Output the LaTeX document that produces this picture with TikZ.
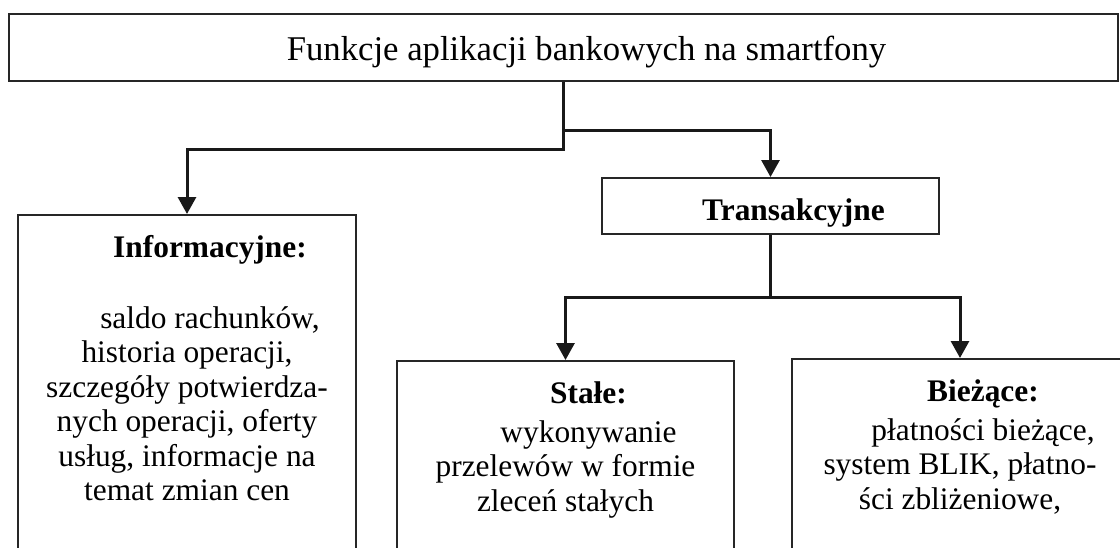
\documentclass[tikz,border=0pt]{standalone}
\usepackage{fontspec}
\setmainfont{Liberation Serif}
\usetikzlibrary{arrows.meta, positioning}
\newcommand{\firstind}{\hspace*{23pt}}

\begin{document}
\begin{tikzpicture}[
    x=0.5pt, y=-0.5pt,
    box/.style={rectangle, draw=black!85, line width=0.8pt, inner sep=0pt, anchor=north},
    column/.style={box, minimum width=168.5pt, minimum height=200pt},
    txt/.style={font=\fontsize{15.7pt}{17.2pt}\selectfont, align=center, inner sep=0pt, anchor=north},
    arrow/.style={-{Triangle[length=8.5pt,width=9pt]}, line width=1.5pt, black!90}
]
\useasboundingbox (0,0) rectangle (1120,547);
\clip (0,0) rectangle (1120,547);

\node[box, minimum width=554.5pt, minimum height=33.5pt] (title) at (563.5,13) {};
\node[box, minimum width=168.5pt, minimum height=28pt] (trans) at (770.5,177) {};
\node[column, minimum width=169pt] (info) at (187,214) {};
\node[column] (stale) at (565.5,360) {};
\node[column, minimum width=168pt] (biez) at (960,358) {};

\node[anchor=base, inner sep=0pt, font=\fontsize{17.35pt}{20pt}\selectfont] (titletext) at (563.5,60) {\firstind Funkcje aplikacji bankowych na smartfony};
\node[anchor=base, inner sep=0pt, font=\fontsize{15.7pt}{17.2pt}\selectfont\bfseries] (transtext) at (770.5,220) {\firstind Transakcyjne};

\node[txt] (infotext) at (187,233) {\strut\firstind\textbf{Informacyjne:}\\[18.3pt]
    \firstind saldo rachunków,\\
    historia operacji,\\
    szczegóły potwierdza-\\
    nych operacji, oferty\\
    usług, informacje na\\
    temat zmian cen};
\node[txt] (staletext) at (565.5,379) {\strut\firstind\textbf{Stałe:}\\[2.3pt]
    \firstind wykonywanie\\
    przelewów w formie\\
    zleceń stałych};
\node[txt] (bieztext) at (960,377) {\strut\firstind\textbf{Bieżące:}\\[2.3pt]
    \firstind płatności bieżące,\\
    system BLIK, płatno-\\
    ści zbliżeniowe,};

\draw[arrow] (title.south) -- ++(0,68) -| (info.north);
\draw[arrow] (title.south) -- ++(0,49) -| (trans.north);
\draw[arrow] (trans.south) -- ++(0,63) -| (stale.north);
\draw[arrow] (trans.south) -- ++(0,63) -| (biez.north);

\end{tikzpicture}
\end{document}
